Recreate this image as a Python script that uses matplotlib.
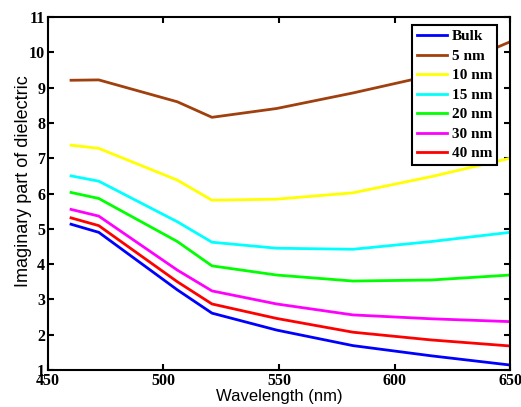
import matplotlib
matplotlib.use("Agg")
import matplotlib.pyplot as plt

# wavelength (nm) and imaginary part of dielectric for each particle size
wavelength = [460, 472, 506, 521, 549, 582, 616, 650]
bulk = [5.13, 4.90, 3.27, 2.61, 2.13, 1.69, 1.40, 1.14]
nm5 = [9.21, 9.22, 8.60, 8.16, 8.41, 8.85, 9.35, 10.30]
nm10 = [7.37, 7.28, 6.38, 5.81, 5.84, 6.02, 6.48, 7.00]
nm15 = [6.50, 6.35, 5.20, 4.62, 4.45, 4.42, 4.64, 4.90]
nm20 = [6.03, 5.86, 4.64, 3.95, 3.69, 3.52, 3.55, 3.69]
nm30 = [5.55, 5.36, 3.83, 3.24, 2.87, 2.56, 2.45, 2.37]
nm40 = [5.31, 5.09, 3.50, 2.87, 2.46, 2.07, 1.85, 1.68]

labels = ["Bulk", "5 nm", "10 nm", "15 nm", "20 nm", "30 nm", "40 nm"]
series = [bulk, nm5, nm10, nm15, nm20, nm30, nm40]
colors = ["#0000ff", "#a0400e", "#ffff00", "#00ffff", "#00ff00", "#ff00ff", "#ff0000"]

fig = plt.figure(figsize=(5.21, 4.07), dpi=100)
ax = fig.add_axes([0.092, 0.091, 0.887, 0.867])

for vals, lab, c in zip(series, labels, colors):
    ax.plot(wavelength, vals, color=c, linewidth=2, label=lab)

ax.set_xlim(450, 650)
ax.set_ylim(1, 11)
ax.set_xticks([450, 500, 550, 600, 650])
ax.set_yticks(range(1, 12))

tick_font = {"family": "Liberation Serif", "weight": "bold", "size": 11.5}
ax.set_xticklabels([str(t) for t in [450, 500, 550, 600, 650]], fontdict=tick_font)
ax.set_yticklabels([str(t) for t in range(1, 12)], fontdict=tick_font)
ax.tick_params(direction="in", top=True, right=True, length=4, width=1.5, pad=2)
for s in ax.spines.values():
    s.set_linewidth(1.5)

ax.set_xlabel("Wavelength (nm)", family="Liberation Sans", fontsize=12, labelpad=0)
ax.set_ylabel("Imaginary part of dielectric", family="Liberation Sans", fontsize=13)
ax.yaxis.set_label_coords(-0.035, 0.535)

leg = ax.legend(loc="upper right", prop={"family": "Liberation Serif", "weight": "bold", "size": 11},
                fancybox=False, framealpha=1, edgecolor="black", handlelength=2.0,
                handletextpad=0.3, labelspacing=0.38, borderpad=0.3, borderaxespad=0,
                bbox_to_anchor=(0.972, 0.977))
leg.get_frame().set_linewidth(1.5)

fig.savefig("out.png", dpi=100)
